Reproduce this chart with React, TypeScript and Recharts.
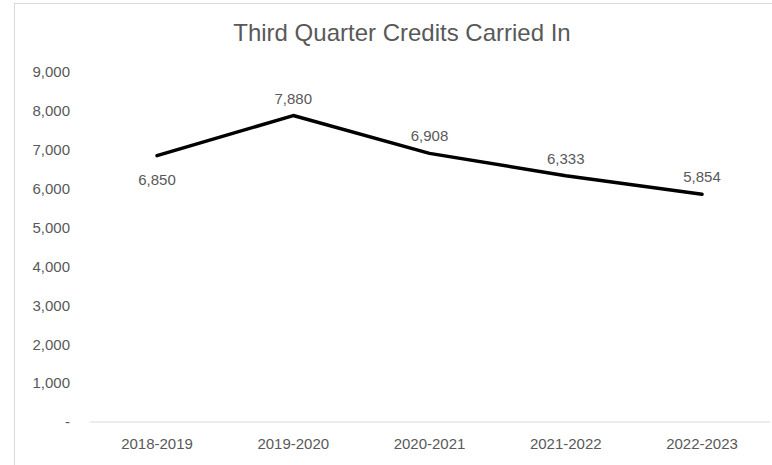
import { LabelList, Line, LineChart, XAxis, YAxis } from 'recharts';

const years = ['2018-2019', '2019-2020', '2020-2021', '2021-2022', '2022-2023'];
const credits = [6850, 7880, 6908, 6333, 5854];
const yTicks = [0, 1000, 2000, 3000, 4000, 5000, 6000, 7000, 8000, 9000];

const data = years.map((year, i) => ({ year, credits: credits[i] }));

const FONT = '"Liberation Sans", Arial, sans-serif';
const GRAY = '#595959';

const fmt = (v: number) => (v === 0 ? '-' : v.toLocaleString('en-US'));

// first point's label sits below the line, the rest above
function PointLabel(props: any) {
  const { x, y, value, index } = props;
  const dy = index === 0 ? 29 : -12;
  return (
    <text x={x} y={y + dy} textAnchor="middle" fill={GRAY} fontSize={15} fontFamily={FONT}>
      {fmt(value)}
    </text>
  );
}

export default function App() {
  return (
    <div style={{ position: 'absolute', left: 0, top: 0, width: 772, height: 465, background: '#fff' }}>
      <div
        style={{
          position: 'absolute',
          left: 14,
          top: 3,
          width: 772 - 14,
          height: 465 - 3,
          borderLeft: '1px solid #d9d9d9',
          borderTop: '1px solid #d9d9d9',
          boxSizing: 'border-box',
        }}
      />
      <div
        style={{
          position: 'absolute',
          left: 0,
          width: 804,
          top: 19,
          textAlign: 'center',
          fontFamily: FONT,
          fontSize: 24,
          color: GRAY,
          lineHeight: '28px',
        }}
      >
        Third Quarter Credits Carried In
      </div>
      <div style={{ position: 'absolute', left: 0, top: 0 }}>
        <LineChart width={772} height={465} data={data} margin={{ top: 72, right: 2, bottom: 0, left: 15 }}>
          <XAxis
            dataKey="year"
            height={43}
            padding={{ left: 67, right: 68 }}
            tickLine={false}
            axisLine={{ stroke: '#d9d9d9' }}
            tickMargin={10}
            tick={{ fill: GRAY, fontSize: 15, fontFamily: FONT }}
          />
          <YAxis
            width={75}
            domain={[0, 9000]}
            ticks={yTicks}
            tickFormatter={fmt}
            axisLine={false}
            tickLine={false}
            tickMargin={14}
            tick={{ fill: GRAY, fontSize: 15, fontFamily: FONT }}
          />
          <Line
            type="linear"
            dataKey="credits"
            stroke="#000"
            strokeWidth={3.5}
            strokeLinejoin="round"
            strokeLinecap="round"
            dot={false}
            isAnimationActive={false}
          >
            <LabelList dataKey="credits" content={PointLabel} />
          </Line>
        </LineChart>
      </div>
    </div>
  );
}
